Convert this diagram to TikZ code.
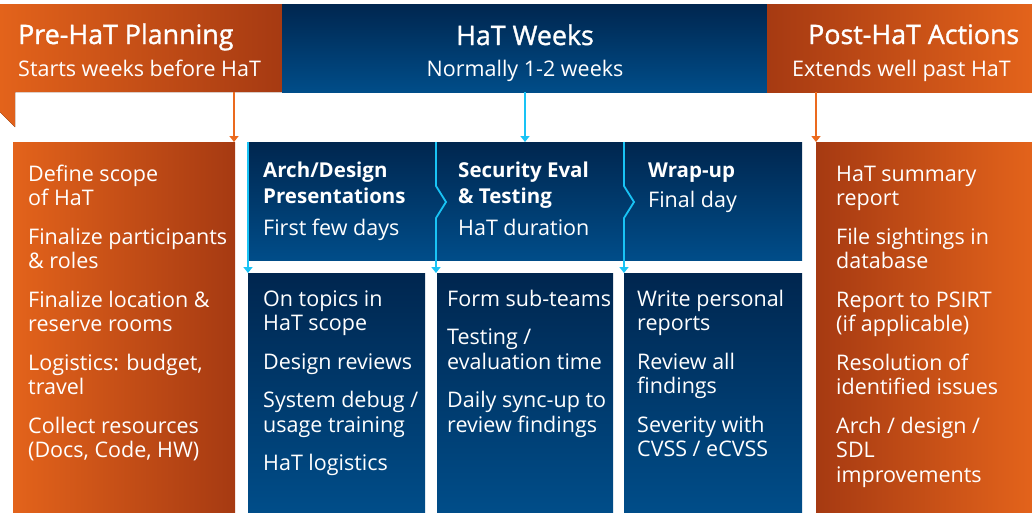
\documentclass[tikz,border=0pt]{standalone}
\usepackage{fontspec}
\setmainfont{Open Sans}
\newfontfamily\medfont[FakeBold=1.2]{Open Sans}
\usetikzlibrary{arrows.meta}

\definecolor{orL}{HTML}{E3631B}
\definecolor{orD}{HTML}{A63A12}
\definecolor{navyT}{HTML}{00264F}
\definecolor{navyB}{HTML}{004D89}
\definecolor{cyanL}{HTML}{19C3F5}
\definecolor{orLine}{HTML}{EB6A1E}

\newcommand{\fl}{\rule{0pt}{17pt}}

\begin{document}
\begin{tikzpicture}[x=1pt,y=-1pt,
  box/.style={rectangle, inner sep=0pt, outer sep=0pt, anchor=north west},
  orbox/.style={box, left color=orL, right color=orD},
  orboxR/.style={box, left color=orD, right color=orL},
  bluebox/.style={box, top color=navyT, bottom color=navyB},
  hd/.style={text=white, inner sep=0pt, font=\medfont\fontsize{26.8}{30}\selectfont},
  sub/.style={text=white, inner sep=0pt, font=\fontsize{21.5}{26}\selectfont},
  body/.style={text=white, inner sep=0pt, anchor=north west, align=left,
    font=\fontsize{21.5}{24.5}\selectfont},
  ttl/.style={text=white, inner sep=0pt, anchor=north west, align=left,
    font=\bfseries\fontsize{20.5}{26}\selectfont},
  orarrow/.style={draw=orLine, line width=1.6pt, -{Triangle[width=9pt,length=6pt]}},
  cyarrow/.style={draw=cyanL, line width=1.8pt, -{Triangle[width=9pt,length=6pt]}}
]
\useasboundingbox (0,0) rectangle (1032,512);

% ---- top banner ----
\fill[left color=orL, right color=orD]
  (0,4) -- (282,4) -- (282,92) -- (15,92) -- (15,127) -- (0,112) -- cycle;
\node[box, minimum width=282pt, minimum height=88pt] (preHead) at (0,4) {};
\node[bluebox, minimum width=485pt, minimum height=88pt] (hatHead) at (282,4) {};
\node[orboxR, minimum width=265pt, minimum height=88pt] (postHead) at (767,4) {};

\node[hd, anchor=base west] (preT) at (18,44) {Pre-HaT Planning};
\node[sub, anchor=base west] (preS) at (18,76) {Starts weeks before HaT};
\node[hd, anchor=base] (hatT) at (525,45) {HaT Weeks};
\node[sub, anchor=base] (hatS) at (525,76) {Normally 1-2 weeks};
\node[hd, anchor=base west] (postT) at (808,44) {Post-HaT Actions};
\node[sub, anchor=base west] (postS) at (792,76) {Extends well past HaT};

% ---- column boxes ----
\node[orbox, minimum width=222pt, minimum height=370pt] (preBox) at (13,142) {};
\node[bluebox, minimum width=555pt, minimum height=118pt] (topBlue) at (247,142) {};
\node[bluebox, minimum width=177pt, minimum height=239pt] (boxA) at (248,273) {};
\node[bluebox, minimum width=176pt, minimum height=239pt] (boxB) at (437,273) {};
\node[bluebox, minimum width=178pt, minimum height=239pt] (boxC) at (624,273) {};
\node[orboxR, minimum width=216pt, minimum height=370pt] (postBox) at (816,142) {};

% ---- connectors from the banner ----
\coordinate (pa) at (234,92);
\coordinate (ha) at (525,92);
\coordinate (qa) at (816,92);
\draw[orarrow] (pa) -- (pa |- preBox.north);
\draw[cyarrow] (ha) -- (ha |- topBlue.north);
\draw[orarrow] (qa) -- (qa |- postBox.north);

% ---- phase separators inside the HaT block ----
\coordinate (s0) at (248,142);
\coordinate (s1) at (436,142);
\coordinate (s2) at (624,142);
\draw[cyarrow] (s0) -- (s0 |- boxA.north);
\draw[cyarrow] (s1) -- ++(0,44) -- ++(10,16) -- ++(-10,16) -- (s1 |- boxB.north);
\draw[cyarrow] (s2) -- ++(0,44) -- ++(10,16) -- ++(-10,16) -- (s2 |- boxC.north);

% ---- phase titles ----
\node[ttl] (t1) at (263,160) {\fl Arch/Design\\Presentations};
\node[sub, anchor=base west] (t1s) at (263,235) {First few days};
\node[ttl] (t2) at (458,160) {\fl Security Eval\\\& Testing};
\node[sub, anchor=base west] (t2s) at (458,235) {HaT duration};
\node[ttl] (t3) at (648,160) {\fl Wrap-up};
\node[sub, anchor=base west] (t3s) at (648,207) {Final day};

% ---- column contents ----
\node[body] (preL) at (28,164) {\fl Define scope\\of HaT\\[14pt]
  Finalize participants\\\& roles\\[14pt]
  Finalize location \&\\reserve rooms\\[14pt]
  Logistics: budget,\\travel\\[14pt]
  Collect resources\\(Docs, Code, HW)};

\node[body] (aL) at (263,289) {\fl On topics in\\HaT scope\\[14pt]
  Design reviews\\[14pt]
  System debug /\\usage training\\[14pt]
  HaT logistics};

\node[body] (bL) at (447,289) {\fl Form sub-teams\\[14pt]
  Testing /\\evaluation time\\[14pt]
  Daily sync-up to\\review findings};

\node[body] (cL) at (637,289) {\fl Write personal\\reports\\[14pt]
  Review all\\findings\\[14pt]
  Severity with\\CVSS / eCVSS};

\node[body] (postL) at (836,164) {\fl HaT summary\\report\\[14pt]
  File sightings in\\database\\[14pt]
  Report to PSIRT\\(if applicable)\\[14pt]
  Resolution of\\identified issues\\[14pt]
  Arch / design /\\SDL\\improvements};
\end{tikzpicture}
\end{document}
